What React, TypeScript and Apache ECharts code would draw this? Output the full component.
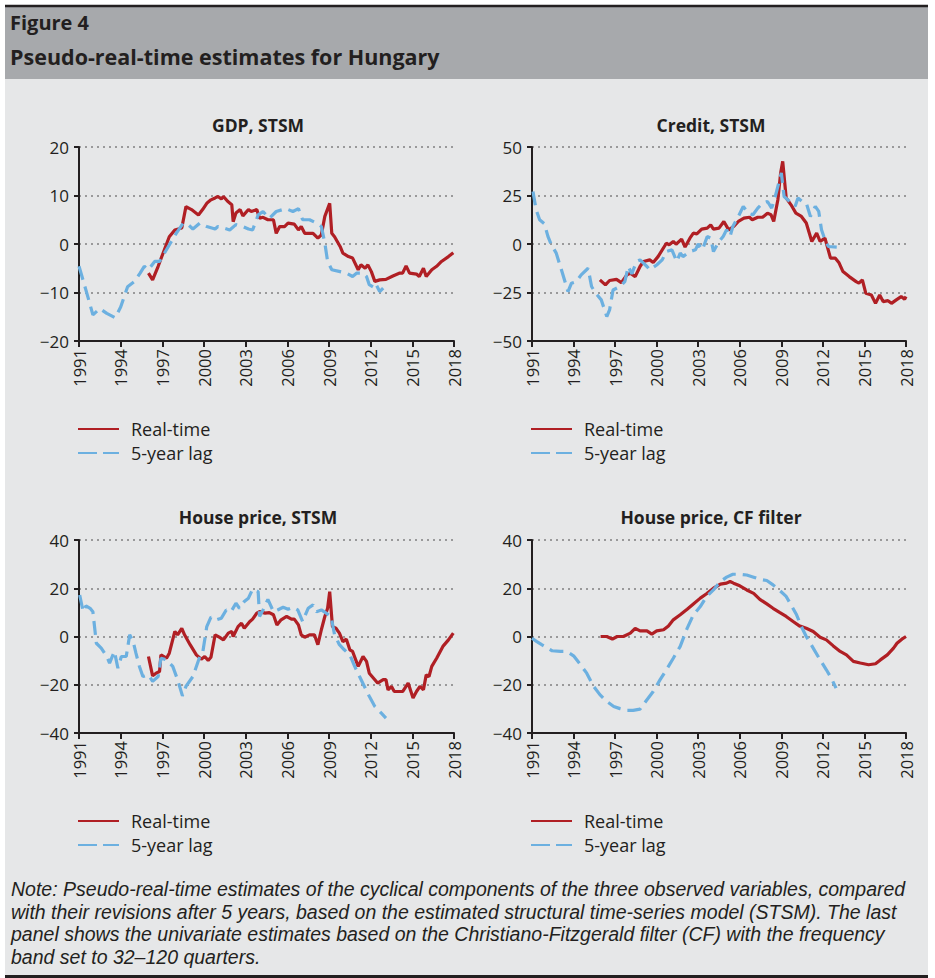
import React, { useEffect, useRef } from "react";
import * as echarts from "echarts";

// ---------- Data: [year, value] pairs ----------
const xTickStart = 1991;
const xTickEnd = 2018;
const xTickStep = 3;

const gdpReal: number[][] = [
  [1996.0, -6.0], [1996.3, -7.4], [1996.7, -4.6], [1997.05, -1.9], [1997.5, 1.5], [1997.9, 2.9],
  [1998.4, 3.3], [1998.7, 7.7], [1999.1, 7.1], [1999.6, 6.0], [1999.9, 7.1], [2000.2, 8.4],
  [2000.5, 9.1], [2000.8, 9.5], [2001.0, 9.8], [2001.25, 9.3], [2001.4, 9.8], [2001.7, 8.8],
  [2002.0, 8.1], [2002.1, 4.6], [2002.3, 6.4], [2002.6, 7.1], [2002.8, 5.8], [2003.2, 7.1],
  [2003.4, 6.7], [2003.8, 7.1], [2004.0, 5.3], [2004.25, 5.5], [2004.6, 5.0], [2005.0, 5.0],
  [2005.2, 2.2], [2005.45, 3.6], [2005.8, 3.6], [2006.05, 4.3], [2006.5, 4.1], [2006.8, 2.9],
  [2007.0, 3.6], [2007.25, 2.2], [2007.85, 2.2], [2008.2, 1.2], [2008.45, 1.9], [2008.7, 5.7],
  [2009.05, 8.4], [2009.2, 2.2], [2009.4, 1.5], [2009.8, -0.5], [2010.0, -1.9], [2010.4, -2.6],
  [2010.7, -2.9], [2011.1, -5.3], [2011.3, -4.3], [2011.6, -5.0], [2011.8, -4.3], [2012.05, -5.7],
  [2012.3, -7.7], [2012.65, -7.4], [2013.1, -7.3], [2013.6, -6.6], [2014.1, -6.0], [2014.3, -6.0],
  [2014.55, -4.5], [2014.8, -6.0], [2015.3, -6.2], [2015.5, -6.7], [2015.8, -5.0], [2016.0, -6.7],
  [2016.4, -5.3], [2016.75, -4.6], [2017.1, -3.6], [2017.6, -2.6], [2017.95, -1.8]
];
const gdpLag: number[][] = [
  [1991.0, -4.6], [1991.5, -9.5], [1992.0, -14.6], [1992.5, -13.3], [1993.0, -14.3], [1993.6, -15.2],
  [1994.0, -13.0], [1994.5, -8.8], [1995.0, -7.7], [1995.4, -6.0], [1995.7, -4.6], [1996.0, -5.3],
  [1996.45, -3.6], [1996.8, -3.6], [1997.5, -0.2], [1998.0, 2.2], [1998.5, 4.3], [1998.85, 4.0],
  [1999.2, 3.1], [1999.7, 4.3], [2000.2, 3.6], [2000.8, 3.1], [2001.0, 3.6], [2001.4, 3.3],
  [2001.85, 2.9], [2002.3, 4.0], [2002.8, 3.6], [2003.2, 3.1], [2003.5, 2.9], [2003.9, 6.0],
  [2004.25, 6.7], [2004.7, 5.3], [2005.2, 6.7], [2005.9, 7.3], [2006.4, 6.7], [2006.8, 7.3],
  [2007.1, 5.0], [2007.6, 5.0], [2008.1, 4.3], [2008.45, 3.6], [2008.7, 0.2], [2008.9, -3.6],
  [2009.2, -5.3], [2009.8, -5.7], [2010.25, -6.0], [2010.7, -6.7], [2011.0, -6.0], [2011.45, -6.0],
  [2011.7, -6.7], [2011.9, -8.4], [2012.3, -9.1], [2012.4, -8.4], [2012.65, -9.8], [2012.9, -9.1]
];

const creditReal: number[][] = [
  [1995.9, -18.5], [1996.3, -21.1], [1996.6, -18.8], [1997.1, -18.2], [1997.45, -19.9], [1997.85, -15.9],
  [1998.1, -15.1], [1998.45, -16.8], [1998.8, -11.6], [1999.05, -9.0], [1999.5, -8.2], [1999.75, -9.5],
  [2000.1, -6.5], [2000.7, 0.4], [2000.9, -0.4], [2001.2, 1.3], [2001.4, -0.1], [2001.8, 2.5],
  [2002.05, -1.6], [2002.4, 3.0], [2002.65, 5.6], [2002.9, 5.2], [2003.25, 7.7], [2003.65, 8.2],
  [2003.9, 9.9], [2004.1, 7.7], [2004.5, 8.2], [2004.85, 11.6], [2005.2, 7.3], [2005.55, 9.0],
  [2005.9, 11.6], [2006.3, 13.3], [2006.7, 13.8], [2006.9, 12.5], [2007.3, 13.8], [2007.65, 13.8],
  [2008.0, 15.9], [2008.25, 15.1], [2008.45, 11.6], [2008.75, 22.8], [2008.95, 36.6], [2009.1, 42.6],
  [2009.35, 23.7], [2009.7, 20.2], [2010.05, 15.9], [2010.45, 14.2], [2010.8, 10.8], [2011.2, 1.3],
  [2011.55, 5.6], [2011.8, 1.3], [2012.15, 3.0], [2012.55, -7.3], [2012.9, -7.3], [2013.15, -9.5],
  [2013.45, -14.2], [2013.9, -16.8], [2014.4, -19.4], [2014.6, -20.2], [2014.85, -18.5], [2015.1, -25.4],
  [2015.5, -26.3], [2015.8, -30.6], [2016.1, -26.3], [2016.35, -29.7], [2016.7, -29.2], [2016.95, -30.6],
  [2017.3, -28.8], [2017.65, -27.1], [2017.9, -28.5], [2018.0, -27.1]
];
const creditLag: number[][] = [
  [1991.07, 27.1], [1991.3, 17.6], [1991.55, 12.5], [1991.9, 10.4], [1992.15, 3.9], [1992.4, -0.4],
  [1992.75, -4.7], [1993.2, -15.1], [1993.6, -24.5], [1993.85, -20.2], [1994.2, -19.4], [1994.55, -15.9],
  [1995.05, -12.5], [1995.3, -21.9], [1995.6, -25.4], [1996.0, -28.8], [1996.4, -37.4], [1996.6, -34.0],
  [1996.85, -23.7], [1997.35, -21.9], [1997.7, -19.4], [1997.95, -11.6], [1998.2, -15.4], [1998.55, -9.0],
  [1998.8, -8.2], [1999.3, -11.6], [1999.5, -13.3], [2000.0, -10.8], [2000.4, -8.2], [2000.7, -3.9],
  [2001.1, -3.0], [2001.45, -9.0], [2001.7, -4.7], [2001.9, -6.5], [2002.4, -3.9], [2002.8, -3.0],
  [2003.0, 0.1], [2003.3, -3.0], [2003.65, 3.9], [2003.9, 3.0], [2004.1, -3.9], [2004.5, 1.3],
  [2004.8, 3.9], [2005.05, 7.3], [2005.3, 3.9], [2005.5, 9.0], [2005.9, 14.2], [2006.25, 19.4],
  [2006.6, 15.9], [2006.95, 15.1], [2007.3, 18.5], [2007.65, 21.1], [2008.0, 21.9], [2008.3, 18.5],
  [2008.5, 22.8], [2008.75, 29.7], [2009.0, 36.6], [2009.2, 24.5], [2009.6, 21.9], [2010.0, 19.4],
  [2010.2, 23.7], [2010.5, 21.9], [2010.8, 21.1], [2011.1, 14.2], [2011.45, 19.4], [2011.7, 16.8],
  [2011.9, 7.3], [2012.15, 2.2], [2012.4, -1.3], [2013.0, -1.6]
];

const houseReal: number[][] = [
  [1996.0, -8.3], [1996.3, -16.3], [1996.55, -15.2], [1996.8, -14.5], [1996.9, -7.6], [1997.3, -9.0],
  [1997.5, -6.9], [1997.9, 2.1], [1998.1, 0.7], [1998.4, 3.4], [1998.6, 0.7], [1999.0, -3.4],
  [1999.45, -7.6], [1999.8, -9.4], [2000.05, -8.3], [2000.3, -9.9], [2000.5, -8.6], [2000.8, 0.7],
  [2001.1, -0.3], [2001.4, -1.4], [2001.75, 1.4], [2002.0, 2.1], [2002.1, 0.0], [2002.45, 4.1],
  [2002.7, 5.5], [2002.9, 3.4], [2003.3, 6.2], [2003.5, 7.2], [2003.8, 9.7], [2004.0, 10.3],
  [2004.4, 9.7], [2004.7, 9.9], [2005.0, 9.0], [2005.25, 4.8], [2005.55, 6.9], [2005.95, 8.3],
  [2006.3, 7.2], [2006.5, 7.2], [2006.8, 4.8], [2007.0, 0.7], [2007.25, -0.3], [2007.6, 0.7],
  [2007.95, 0.7], [2008.2, -3.4], [2008.45, 2.8], [2008.7, 8.3], [2008.9, 11.7], [2009.05, 18.6],
  [2009.25, 4.1], [2009.5, 3.4], [2009.75, 1.4], [2010.0, -2.1], [2010.25, -1.1], [2010.5, -5.5],
  [2010.7, -6.2], [2011.1, -12.4], [2011.45, -8.3], [2011.7, -10.3], [2011.9, -15.2], [2012.3, -17.9],
  [2012.5, -19.3], [2012.9, -17.9], [2013.1, -17.9], [2013.25, -22.1], [2013.5, -20.7], [2013.7, -22.8],
  [2014.1, -22.8], [2014.3, -22.8], [2014.7, -19.3], [2015.05, -25.5], [2015.3, -22.8], [2015.55, -20.7],
  [2015.8, -22.1], [2016.0, -15.9], [2016.2, -16.6], [2016.4, -12.4], [2016.75, -9.0], [2017.2, -4.1],
  [2017.6, -1.4], [2017.95, 1.4]
];
const houseLag: number[][] = [
  [1991.05, 17.2], [1991.3, 10.3], [1991.5, 12.7], [1991.8, 11.7], [1992.0, 10.3], [1992.25, -2.8],
  [1992.6, -4.8], [1993.0, -8.3], [1993.2, -11.0], [1993.55, -6.2], [1993.8, -13.1], [1994.05, -8.3],
  [1994.4, -8.3], [1994.65, 0.7], [1994.9, -2.1], [1995.1, -6.9], [1995.35, -12.4], [1995.6, -16.6],
  [1996.0, -15.9], [1996.3, -18.6], [1996.7, -16.6], [1996.9, -9.0], [1997.3, -9.7], [1997.75, -12.4],
  [1998.1, -17.9], [1998.45, -24.6], [1998.7, -20.7], [1999.2, -16.6], [1999.7, -8.3], [1999.9, -6.9],
  [2000.2, 4.1], [2000.5, 8.0], [2000.9, 6.9], [2001.25, 7.6], [2001.6, 11.0], [2001.95, 10.3],
  [2002.3, 13.8], [2002.55, 11.7], [2002.9, 14.5], [2003.2, 15.9], [2003.5, 19.6], [2003.9, 18.6],
  [2004.0, 8.3], [2004.25, 11.0], [2004.6, 15.4], [2005.0, 10.3], [2005.3, 11.0], [2005.7, 12.1],
  [2006.05, 11.3], [2006.4, 12.1], [2006.75, 11.0], [2007.1, 6.2], [2007.5, 11.7], [2007.85, 13.1],
  [2008.1, 10.3], [2008.45, 11.0], [2008.8, 9.7], [2009.15, 8.3], [2009.4, 0.7], [2009.75, -3.4],
  [2010.1, -5.5], [2010.5, -7.6], [2010.85, -12.4], [2011.2, -16.6], [2011.55, -20.7], [2011.9, -24.8],
  [2012.3, -29.0], [2012.75, -31.7], [2013.1, -33.8]
];

const cfReal: number[][] = [
  [1995.95, 0.0], [1996.4, 0.0], [1996.8, -1.1], [1997.15, 0.0], [1997.6, 0.0], [1998.1, 1.4],
  [1998.45, 3.4], [1998.8, 2.3], [1999.3, 2.3], [1999.65, 1.0], [2000.0, 2.3], [2000.5, 2.8],
  [2000.85, 4.4], [2001.2, 6.9], [2001.7, 9.0], [2002.2, 11.3], [2002.65, 13.5], [2003.15, 15.9],
  [2003.6, 17.7], [2004.1, 20.0], [2004.6, 21.7], [2005.05, 22.1], [2005.3, 22.8], [2005.55, 22.1],
  [2006.0, 21.0], [2006.5, 19.3], [2007.0, 17.9], [2007.45, 15.4], [2007.95, 13.5], [2008.4, 11.7],
  [2008.9, 9.9], [2009.35, 8.3], [2009.85, 6.2], [2010.3, 4.4], [2010.8, 3.4], [2011.3, 2.1],
  [2011.8, -0.3], [2012.25, -1.4], [2012.75, -3.9], [2013.25, -6.2], [2013.7, -7.6], [2014.2, -10.3],
  [2014.7, -11.0], [2015.3, -11.7], [2015.8, -11.3], [2016.15, -9.7], [2016.65, -7.6], [2017.1, -4.8],
  [2017.35, -2.8], [2017.7, -1.1], [2018.0, 0.0]
];
const cfLag: number[][] = [
  [1991.0, -0.7], [1991.35, -2.1], [1991.7, -3.4], [1992.1, -4.8], [1992.45, -5.9], [1993.05, -6.2],
  [1993.5, -6.2], [1994.0, -8.0], [1994.5, -11.7], [1994.95, -15.2], [1995.45, -20.7], [1995.9, -24.1],
  [1996.4, -26.9], [1996.9, -29.0], [1997.35, -29.9], [1997.85, -30.6], [1998.3, -30.6], [1998.8, -30.1],
  [1999.3, -26.2], [1999.75, -22.8], [2000.25, -17.9], [2000.7, -13.8], [2001.2, -9.0], [2001.7, -4.1],
  [2002.2, 3.4], [2002.65, 9.0], [2003.15, 12.4], [2003.6, 16.6], [2004.1, 19.3], [2004.6, 22.8],
  [2005.05, 24.6], [2005.5, 25.8], [2006.0, 25.8], [2006.5, 25.5], [2007.0, 24.6], [2007.45, 23.7],
  [2007.95, 23.2], [2008.4, 21.4], [2008.9, 19.0], [2009.35, 16.6], [2009.7, 13.1], [2010.1, 9.0],
  [2010.45, 4.1], [2010.8, 0.0], [2011.3, -4.8], [2011.8, -9.7], [2012.25, -13.8], [2012.6, -17.2],
  [2012.95, -21.4]
];

const panelTitles = ["GDP, STSM", "Credit, STSM", "House price, STSM", "House price, CF filter"];
const yMins = [-20, -50, -40, -40];
const yMaxs = [20, 50, 40, 40];
const yIntervals = [10, 25, 20, 20];
const realSeries = [gdpReal, creditReal, houseReal, cfReal];
const lagSeries = [gdpLag, creditLag, houseLag, cfLag];
const legendNames = ["Real-time", "5-year lag"];

const figureLabel = "Figure 4";
const figureTitle = "Pseudo-real-time estimates for Hungary";
const noteLines = [
  "Note: Pseudo-real-time estimates of the cyclical components of the three observed variables, compared",
  "with their revisions after 5 years, based on the estimated structural time-series model (STSM). The last",
  "panel shows the univariate estimates based on the Christiano-Fitzgerald filter (CF) with the frequency",
  "band set to 32\u2013120 quarters."
];

// ---------- Styling / layout ----------
const RED = "#b01f24";
const BLUE = "#6cb0e0";
const INK = "#231f20";
const FONT = "'Open Sans', 'Noto Sans', sans-serif";
const NOTE_FONT = "'Liberation Sans', Arial, sans-serif";

const grids = [
  { left: 79, top: 147, width: 375, height: 194 },
  { left: 532, top: 147, width: 374, height: 194 },
  { left: 79, top: 540, width: 375, height: 193 },
  { left: 532, top: 540, width: 374, height: 193 },
];
const titlePos = [
  { x: 258, y: 125 },
  { x: 711, y: 125 },
  { x: 258, y: 517 },
  { x: 711, y: 517 },
];
const legendPos = [
  { left: 77, top: 420 },
  { left: 530, top: 420 },
  { left: 77, top: 812 },
  { left: 530, top: 812 },
];

const fmtNum = (v: number) => (v < 0 ? "\u2212" + Math.abs(v) : String(v));

export default function App() {
  const ref = useRef<HTMLDivElement>(null);

  useEffect(() => {
    document.body.style.margin = "0";
    if (!ref.current) return;
    const chart = echarts.init(ref.current, undefined, { renderer: "svg" });

    const xAxes = grids.map((_, i) => ({
      type: "value",
      gridIndex: i,
      min: xTickStart,
      max: xTickEnd,
      interval: xTickStep,
      axisLine: { show: true, onZero: false, lineStyle: { color: INK, width: 2 } },
      axisTick: { show: true, length: 6, lineStyle: { color: INK, width: 2 } },
      axisLabel: {
        rotate: 90,
        margin: 8,
        fontSize: 16.5,
        fontFamily: FONT,
        color: INK,
        formatter: (v: number) => String(v),
      },
      splitLine: { show: false },
    }));

    const yAxes = grids.map((_, i) => ({
      type: "value",
      gridIndex: i,
      min: yMins[i],
      max: yMaxs[i],
      interval: yIntervals[i],
      axisLine: { show: true, lineStyle: { color: INK, width: 2 } },
      axisTick: { show: true, length: 5, lineStyle: { color: INK, width: 2 } },
      axisLabel: {
        margin: 10,
        fontSize: 17,
        fontFamily: FONT,
        color: INK,
        formatter: fmtNum,
      },
      splitLine: { show: true, lineStyle: { color: "#808080", width: 1.5, type: [2, 4] } },
    }));

    const series: any[] = [];
    grids.forEach((_, i) => {
      series.push({
        type: "line",
        name: legendNames[0],
        xAxisIndex: i,
        yAxisIndex: i,
        data: realSeries[i],
        showSymbol: false,
        symbol: "none",
        lineStyle: { color: RED, width: 3.2 },
        itemStyle: { color: RED },
        z: 3,
      });
      series.push({
        type: "line",
        name: legendNames[1],
        xAxisIndex: i,
        yAxisIndex: i,
        data: lagSeries[i],
        showSymbol: false,
        symbol: "none",
        lineStyle: { color: BLUE, width: 3.2, type: [14, 7] },
        itemStyle: { color: BLUE },
        z: 4,
      });
    });

    const legends = legendPos.map((p) => ({
      left: p.left,
      top: p.top,
      padding: 0,
      orient: "vertical",
      itemWidth: 41,
      itemHeight: 14,
      itemGap: 6,
      data: [
        { name: legendNames[0] },
        { name: legendNames[1], lineStyle: { type: [19, 6] } },
      ],
      selectedMode: false,
      itemStyle: { opacity: 0, color: "rgba(0,0,0,0)", borderWidth: 0 },
      textStyle: { fontSize: 18, fontFamily: FONT, color: INK, padding: [0, 0, 0, 7] },
    }));

    const graphic: any[] = [
      { type: "rect", z: -10, shape: { x: 5, y: 5, width: 923, height: 973 }, style: { fill: "#e6e7e8" } },
      { type: "rect", z: -9, shape: { x: 5, y: 7, width: 923, height: 72 }, style: { fill: "#a7a9ac" } },
      { type: "line", z: -8, shape: { x1: 5, y1: 6, x2: 928, y2: 6 }, style: { stroke: INK, lineWidth: 2.5 } },
      { type: "line", z: -8, shape: { x1: 5, y1: 976.5, x2: 928, y2: 976.5 }, style: { stroke: INK, lineWidth: 3 } },
      {
        type: "text", z: 10, x: 10, y: 22,
        style: { text: figureLabel, font: `bold 20px ${FONT}`, fill: INK, textVerticalAlign: "middle" },
      },
      {
        type: "text", z: 10, x: 10, y: 56,
        style: { text: figureTitle, font: `bold 21.5px ${FONT}`, fill: INK, textVerticalAlign: "middle" },
      },
    ];
    titlePos.forEach((p, i) => {
      graphic.push({
        type: "text", z: 10, x: p.x, y: p.y,
        style: {
          text: panelTitles[i], font: `bold 17.5px ${FONT}`, fill: INK,
          textAlign: "center", textVerticalAlign: "middle",
        },
      });
    });
    const noteY = [889, 911.5, 934, 956.5];
    noteLines.forEach((t, i) => {
      graphic.push({
        type: "text", z: 10, x: 11, y: noteY[i],
        style: {
          text: t, font: `italic 19.5px ${NOTE_FONT}`, lineHeight: 21, fill: INK,
          textAlign: "left", textVerticalAlign: "middle",
        },
      });
    });

    chart.setOption({
      animation: false,
      backgroundColor: "#ffffff",
      grid: grids.map((g) => ({ ...g, containLabel: false })),
      xAxis: xAxes,
      yAxis: yAxes,
      legend: legends,
      series,
      graphic,
    });

    return () => {
      chart.dispose();
    };
  }, []);

  return <div ref={ref} style={{ width: 935, height: 978 }} />;
}
